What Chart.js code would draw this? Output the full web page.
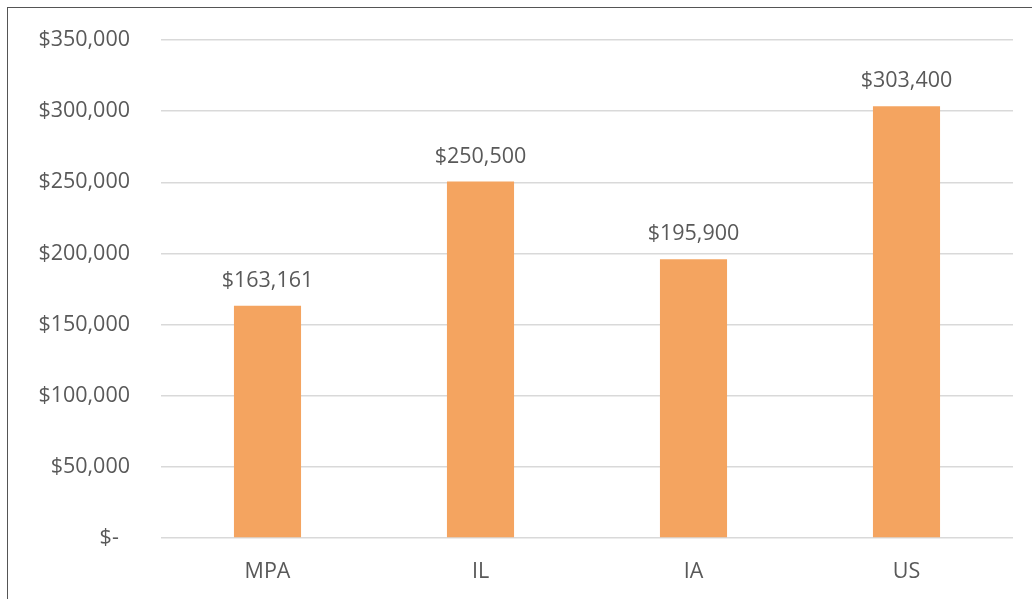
<!DOCTYPE html>
<html>
<head>
<meta charset="utf-8">
<script src="https://cdn.jsdelivr.net/npm/chart.js@4/dist/chart.umd.min.js"></script>
<style>
  html, body { margin: 0; padding: 0; background: #fff; overflow: hidden; }
  #moldura {
    position: absolute; left: 7px; top: 7px; width: 1100px; height: 700px;
    border: 1px solid #555; box-sizing: border-box;
  }
  #wrap { position: absolute; left: 0; top: 0; width: 1032px; height: 599px; }
</style>
</head>
<body>
<div id="moldura"></div>
<div id="wrap"><canvas id="grafico" width="1032" height="599"></canvas></div>
<script>
const categorias = ['MPA', 'IL', 'IA', 'US'];
const valores = [163161, 250500, 195900, 303400];
const rotulosY = ['$-', '$50,000', '$100,000', '$150,000', '$200,000', '$250,000', '$300,000', '$350,000'];

const fonte = '"Open Sans", sans-serif';
const corTexto = '#595959';

function formatar(v) {
  return '$' + v.toLocaleString('en-US');
}

// desenha o valor acima de cada barra
const rotulosBarras = {
  id: 'rotulosBarras',
  afterDatasetsDraw(chart) {
    const ctx = chart.ctx;
    const meta = chart.getDatasetMeta(0);
    ctx.save();
    ctx.font = '21.5px ' + fonte;
    ctx.fillStyle = corTexto;
    ctx.textAlign = 'center';
    ctx.textBaseline = 'alphabetic';
    meta.data.forEach((barra, i) => {
      ctx.fillText(formatar(valores[i]), barra.x, barra.y - 19);
    });
    ctx.restore();
  }
};

const ctx = document.getElementById('grafico').getContext('2d');
new Chart(ctx, {
  type: 'bar',
  data: {
    labels: categorias,
    datasets: [{
      data: valores,
      backgroundColor: '#F4A460',
      borderWidth: 0,
      categoryPercentage: 1,
      barPercentage: 0.315
    }]
  },
  options: {
    responsive: false,
    animation: false,
    layout: { padding: { top: 40, right: 19, left: 0, bottom: 0 } },
    plugins: {
      legend: { display: false },
      tooltip: { enabled: false }
    },
    scales: {
      y: {
        min: 0,
        max: 350000,
        afterFit: s => { s.width = 161; s.paddingTop = 0; s.paddingBottom = 0; },
        border: { display: false },
        grid: { color: '#d9d9d9', lineWidth: 1.5, drawTicks: false },
        ticks: {
          stepSize: 50000,
          padding: 31,
          color: corTexto,
          font: { family: fonte, size: 21.5 },
          callback: (v, i) => rotulosY[i] === '$-' ? '$-  ' : rotulosY[i]
        }
      },
      x: {
        afterFit: s => { s.height = 61; s.paddingLeft = 0; s.paddingRight = 0; },
        border: { display: false },
        grid: { display: false, drawTicks: false },
        ticks: {
          padding: 21,
          color: corTexto,
          font: { family: fonte, size: 21.5 }
        }
      }
    }
  },
  plugins: [rotulosBarras]
});
</script>
</body>
</html>
